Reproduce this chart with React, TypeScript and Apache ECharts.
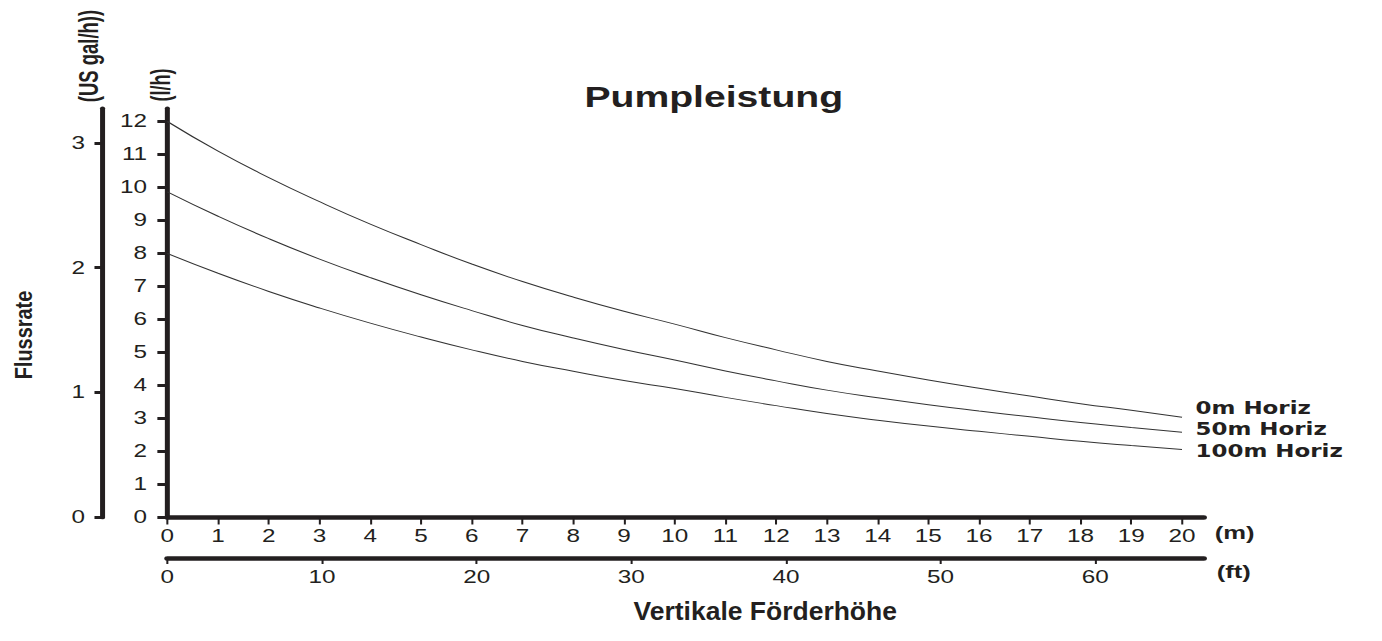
import React, { useEffect, useRef } from "react";
import * as echarts from "echarts";

// ---- data ----
const meters = [0, 1, 2, 3, 4, 5, 6, 7, 8, 9, 10, 11, 12, 13, 14, 15, 16, 17, 18, 19, 20];
const flow0m = [12.0, 11.1, 10.3, 9.57, 8.89, 8.27, 7.68, 7.15, 6.68, 6.25, 5.86, 5.45, 5.08, 4.73, 4.44, 4.17, 3.92, 3.68, 3.45, 3.25, 3.04];
const flow50m = [9.87, 9.13, 8.45, 7.83, 7.27, 6.75, 6.27, 5.82, 5.44, 5.09, 4.77, 4.44, 4.14, 3.86, 3.63, 3.42, 3.23, 3.05, 2.88, 2.73, 2.58];
const flow100m = [8.0, 7.4, 6.85, 6.35, 5.89, 5.47, 5.08, 4.73, 4.43, 4.15, 3.91, 3.64, 3.39, 3.15, 2.95, 2.77, 2.61, 2.46, 2.31, 2.18, 2.06];
const seriesNames = ["0m Horiz", "50m Horiz", "100m Horiz"];
const lhTicks = [0, 1, 2, 3, 4, 5, 6, 7, 8, 9, 10, 11, 12];
const galTicks = [0, 1, 2, 3];
const mTicks = meters;
const ftTicks = [0, 10, 20, 30, 40, 50, 60];

const LITERS_PER_GAL = 3.785;
const M_PER_FT = 0.3048;
const Y_MAX = 12.4;
const X_MAX = 20.43;

const INK = "#231f20";
const STRETCH = 1382 / 1024;

export default function App() {
  const ref = useRef<HTMLDivElement>(null);

  useEffect(() => {
    if (!ref.current) return;
    const chart = echarts.init(ref.current, undefined, { renderer: "svg" });
    const seriesData = [flow0m, flow50m, flow100m];
    // vertical placement of the end labels (shift via alignment + line height)
    const labelVAlign = ["bottom", "bottom", "top"];
    const labelLineHeight = [19, 6, 3];

    chart.setOption({
      animation: false,
      backgroundColor: "#ffffff",
      textStyle: { fontFamily: "Liberation Sans", color: INK },
      title: {
        text: "Pumpleistung",
        left: 433,
        top: 82,
        padding: 0,
        textStyle: { fontFamily: "Liberation Sans", fontWeight: "bold", fontSize: 29, color: INK },
      },
      grid: { left: 124, right: 132, top: 108.3, bottom: 123.5 },
      xAxis: [
        {
          type: "value",
          min: 0,
          max: X_MAX,
          position: "bottom",
          splitLine: { show: false },
          axisLine: { show: true, onZero: false, lineStyle: { color: INK, width: 4.5 } },
          axisTick: { show: true, customValues: mTicks, length: 7, lineStyle: { color: INK, width: 1.5 } },
          axisLabel: { customValues: mTicks, margin: 10, fontSize: 18, color: INK, fontFamily: "Liberation Sans" },
        },
        {
          type: "value",
          min: 0,
          max: X_MAX / M_PER_FT,
          position: "bottom",
          offset: 40.5,
          splitLine: { show: false },
          axisLine: { show: true, onZero: false, lineStyle: { color: INK, width: 4.5 } },
          axisTick: { show: true, customValues: ftTicks, length: 6, lineStyle: { color: INK, width: 1.5 } },
          axisLabel: { customValues: ftTicks, margin: 10, fontSize: 18, color: INK, fontFamily: "Liberation Sans" },
        },
      ],
      yAxis: [
        {
          type: "value",
          min: 0,
          max: Y_MAX,
          position: "left",
          splitLine: { show: false },
          axisLine: { show: true, onZero: false, lineStyle: { color: INK, width: 3.7 } },
          axisTick: { show: true, customValues: lhTicks, length: 7.4, lineStyle: { color: INK, width: 3 } },
          axisLabel: { customValues: lhTicks, margin: 15, fontSize: 18, color: INK, fontFamily: "Liberation Sans" },
        },
        {
          type: "value",
          min: 0,
          max: Y_MAX / LITERS_PER_GAL,
          position: "left",
          offset: 48,
          splitLine: { show: false },
          axisLine: { show: true, onZero: false, lineStyle: { color: INK, width: 3.7 } },
          axisTick: { show: true, customValues: galTicks, length: 6, lineStyle: { color: INK, width: 3 } },
          axisLabel: { customValues: galTicks, margin: 13, fontSize: 18, color: INK, fontFamily: "Liberation Sans" },
        },
      ],
      series: seriesData.map((vals, si) => ({
        type: "line",
        name: seriesNames[si],
        xAxisIndex: 0,
        yAxisIndex: 0,
        data: meters.map((m, i) => [m, vals[i]]),
        smooth: true,
        symbol: "none",
        showSymbol: false,
        silent: true,
        lineStyle: { color: "#333333", width: 1 },
        endLabel: {
          show: true,
          formatter: "{a}",
          distance: 10,
          color: INK,
          fontFamily: "DejaVu Sans",
          fontWeight: "bold",
          fontSize: 17,
          lineHeight: labelLineHeight[si],
          verticalAlign: labelVAlign[si],
        },
      })),
      graphic: [
        {
          type: "text",
          x: 65.2,
          y: 56,
          rotation: Math.PI / 2,
          scaleX: 0.88,
          style: { text: "(US gal/h))", fontFamily: "Liberation Sans", fontWeight: "bold", fontSize: 21, fill: INK, align: "center", verticalAlign: "middle" },
        },
        {
          type: "text",
          x: 118.5,
          y: 85,
          rotation: Math.PI / 2,
          scaleX: 0.86,
          style: { text: "(l/h)", fontFamily: "Liberation Sans", fontWeight: "bold", fontSize: 21, fill: INK, align: "center", verticalAlign: "middle" },
        },
        {
          type: "text",
          x: 17.8,
          y: 335,
          rotation: Math.PI / 2,
          scaleX: 1.14,
          style: { text: "Flussrate", fontFamily: "Liberation Sans", fontWeight: "bold", fontSize: 17.5, fill: INK, align: "center", verticalAlign: "middle" },
        },
        {
          type: "text",
          x: 567,
          y: 611.3,
          scaleX: 0.785,
          style: { text: "Vertikale Förderhöhe", fontFamily: "Liberation Sans", fontWeight: "bold", fontSize: 25, fill: INK, align: "center", verticalAlign: "middle" },
        },
        {
          type: "text",
          x: 900,
          y: 533,
          style: { text: "(m)", fontFamily: "Liberation Sans", fontWeight: "bold", fontSize: 19, fill: INK, align: "left", verticalAlign: "middle" },
        },
        {
          type: "text",
          x: 901.5,
          y: 572,
          style: { text: "(ft)", fontFamily: "Liberation Sans", fontWeight: "bold", fontSize: 19, fill: INK, align: "left", verticalAlign: "middle" },
        },
      ],
    });

    return () => chart.dispose();
  }, []);

  return (
    <div
      ref={ref}
      style={{
        position: "absolute",
        left: 0,
        top: 0,
        width: 1024,
        height: 641,
        transform: `scaleX(${STRETCH})`,
        transformOrigin: "0 0",
        background: "#ffffff",
      }}
    />
  );
}
